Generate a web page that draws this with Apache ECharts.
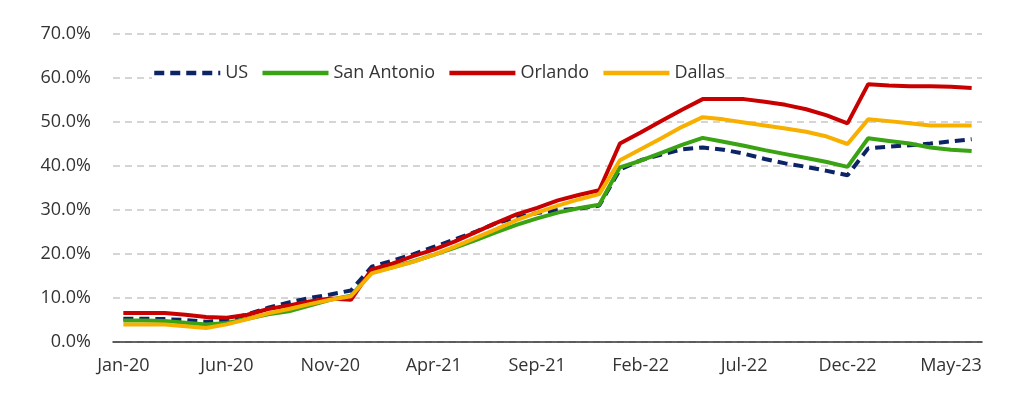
<!DOCTYPE html>
<html>
<head>
<meta charset="utf-8">
<script src="https://cdn.jsdelivr.net/npm/echarts@6/dist/echarts.min.js"></script>
<style>
    html, body { margin: 0; padding: 0; background: #fff; }
    #chart { width: 1024px; height: 399px; }
</style>
</head>
<body>
<div id="chart"></div>
<script>
// monthly, Jan-20 .. Jun-23
var months = [
    'Jan-20', 'Feb-20', 'Mar-20', 'Apr-20', 'May-20', 'Jun-20', 'Jul-20', 'Aug-20', 'Sep-20', 'Oct-20', 'Nov-20', 'Dec-20',
    'Jan-21', 'Feb-21', 'Mar-21', 'Apr-21', 'May-21', 'Jun-21', 'Jul-21', 'Aug-21', 'Sep-21', 'Oct-21', 'Nov-21', 'Dec-21',
    'Jan-22', 'Feb-22', 'Mar-22', 'Apr-22', 'May-22', 'Jun-22', 'Jul-22', 'Aug-22', 'Sep-22', 'Oct-22', 'Nov-22', 'Dec-22',
    'Jan-23', 'Feb-23', 'Mar-23', 'Apr-23', 'May-23', 'Jun-23'
];

var usData = [
    5.3, 5.3, 5.2, 5.0, 4.6, 5.0, 6.3, 7.8, 9.0, 10.0, 10.8, 11.7,
    17.1, 18.5, 19.9, 21.6, 23.3, 25.0, 27.0, 28.3, 29.3, 30.0, 30.3, 31.0,
    39.2, 41.3, 42.6, 43.8, 44.2, 43.7, 42.8, 41.6, 40.6, 39.8, 38.9, 37.9,
    44.0, 44.4, 44.7, 45.1, 45.6, 46.1
];
var sanAntonioData = [
    4.9, 4.9, 4.8, 4.4, 4.0, 4.3, 5.3, 6.3, 7.0, 8.3, 9.6, 10.5,
    15.8, 17.0, 18.3, 19.8, 21.4, 23.1, 24.9, 26.6, 28.1, 29.4, 30.4, 31.2,
    39.7, 41.2, 43.0, 44.8, 46.4, 45.5, 44.6, 43.6, 42.7, 41.8, 40.9, 39.8,
    46.3, 45.7, 45.1, 44.2, 43.7, 43.4
];
var orlandoData = [
    6.6, 6.6, 6.6, 6.2, 5.7, 5.5, 6.2, 7.5, 8.3, 9.2, 9.9, 9.6,
    16.5, 17.8, 19.5, 21.0, 22.8, 24.9, 27.0, 29.0, 30.5, 32.2, 33.4, 34.5,
    45.1, 47.6, 50.2, 52.8, 55.2, 55.2, 55.2, 54.6, 53.9, 52.9, 51.5, 49.7,
    58.6, 58.3, 58.1, 58.1, 58.0, 57.7
];
var dallasData = [
    4.0, 4.0, 4.0, 3.6, 3.2, 4.0, 5.2, 6.5, 7.5, 8.6, 9.6, 10.4,
    15.6, 16.9, 18.2, 19.8, 21.6, 23.6, 25.6, 27.7, 29.4, 31.0, 32.4, 33.6,
    41.3, 43.8, 46.3, 48.9, 51.1, 50.6, 49.9, 49.2, 48.5, 47.8, 46.7, 45.0,
    50.6, 50.2, 49.7, 49.2, 49.2, 49.2
];

var chart = echarts.init(document.getElementById('chart'));

var textColor = '#333333';
var fontFamily = '"Open Sans", "Liberation Sans", sans-serif';

function lineSeries(name, data, color, type) {
    return {
        name: name,
        type: 'line',
        data: data,
        symbol: 'none',
        animation: false,
        lineStyle: {
            color: color,
            width: 4,
            type: type || 'solid'
        },
        itemStyle: { color: color }
    };
}

var option = {
    backgroundColor: '#ffffff',
    textStyle: { fontFamily: fontFamily },
    grid: {
        left: 113,
        right: 42,
        top: 34,
        bottom: 57
    },
    legend: {
        left: 152,
        top: 64,
        itemWidth: 66,
        itemHeight: 14,
        itemGap: 12,
        backgroundColor: '#ffffff',
        padding: 0,
        itemStyle: { opacity: 0 },
        lineStyle: { width: 4.5 },
        textStyle: { color: textColor, fontSize: 18, fontFamily: fontFamily },
        data: ['US', 'San Antonio', 'Orlando', 'Dallas']
    },
    xAxis: {
        type: 'category',
        data: months,
        boundaryGap: true,
        axisLine: { lineStyle: { color: '#333333', width: 1.5 } },
        axisTick: { inside: true, length: 6, interval: 4, lineStyle: { color: '#333333', width: 1.5 } },
        axisLabel: { interval: 4, margin: 15, color: textColor, fontSize: 18 },
        splitLine: { show: false }
    },
    yAxis: {
        type: 'value',
        min: 0,
        max: 70,
        interval: 10,
        axisLine: { show: false },
        axisTick: { show: false },
        axisLabel: {
            margin: 22,
            color: textColor,
            fontSize: 18,
            formatter: function (v) { return v.toFixed(1) + '%'; }
        },
        splitLine: { lineStyle: { color: '#c8c8c8', width: 1.5, type: [7, 5] } }
    },
    series: [
        lineSeries('US', usData, '#0c2366', [10, 6]),
        lineSeries('San Antonio', sanAntonioData, '#3aa314'),
        lineSeries('Orlando', orlandoData, '#c80000'),
        lineSeries('Dallas', dallasData, '#f7b000')
    ]
};

chart.setOption(option);
</script>
</body>
</html>
